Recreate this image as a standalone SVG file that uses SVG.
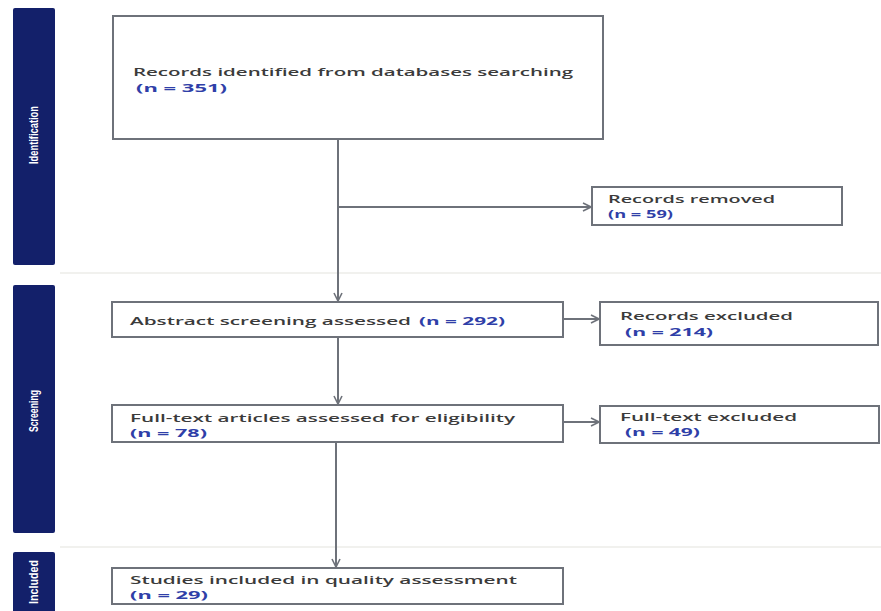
<svg xmlns="http://www.w3.org/2000/svg" width="881" height="611" viewBox="0 0 881 611">
<style>
.bar{fill:#13206a;}
.bl{fill:#ffffff;font-family:"Liberation Sans Narrow","Liberation Sans",sans-serif;font-size:12px;font-weight:bold;text-anchor:middle;}
.box{fill:#ffffff;stroke:#6e727a;stroke-width:2;}
.t{fill:#3b3b3b;font-family:"Open Sans","DejaVu Sans",sans-serif;font-size:11px;font-weight:600;}
.n{fill:#2f3fa8;font-weight:bold;}
.c{stroke:#6e727a;stroke-width:2;fill:none;}
</style>
<defs>
<marker id="ah" viewBox="0 0 10 10" refX="9" refY="5" markerWidth="10" markerHeight="10" markerUnits="userSpaceOnUse" orient="auto">
<polyline points="1,1 9,5 1,9" fill="none" stroke="#6e727a" stroke-width="1.6"/>
</marker>
</defs>
<rect width="881" height="611" fill="#ffffff"/>
<line x1="60" y1="273" x2="881" y2="273" stroke="#f1f1ee" stroke-width="2"/>
<line x1="60" y1="547" x2="881" y2="547" stroke="#f1f1ee" stroke-width="2"/>

<g id="phase-identification">
<rect class="bar" x="13" y="8" width="42" height="257" rx="2"/>
<text class="bl" transform="translate(38,135) rotate(-90)" textLength="58" lengthAdjust="spacingAndGlyphs">Identification</text>
</g>
<g id="phase-screening">
<rect class="bar" x="13" y="285" width="42" height="248" rx="2"/>
<text class="bl" transform="translate(38,411) rotate(-90)" textLength="42" lengthAdjust="spacingAndGlyphs">Screening</text>
</g>
<g id="phase-included">
<rect class="bar" x="13" y="552" width="42" height="62" rx="2"/>
<text class="bl" transform="translate(38,582) rotate(-90)" textLength="44" lengthAdjust="spacingAndGlyphs">Included</text>
</g>

<g id="connectors">
<line class="c" x1="338" y1="139" x2="338" y2="301" marker-end="url(#ah)"/>
<line class="c" x1="338" y1="207" x2="591" y2="207" marker-end="url(#ah)"/>
<line class="c" x1="563" y1="319" x2="599" y2="319" marker-end="url(#ah)"/>
<line class="c" x1="338" y1="337" x2="338" y2="404" marker-end="url(#ah)"/>
<line class="c" x1="563" y1="422" x2="599" y2="422" marker-end="url(#ah)"/>
<line class="c" x1="336" y1="442" x2="336" y2="567" marker-end="url(#ah)"/>
</g>

<g id="records-identified">
<rect class="box" x="113" y="16" width="490" height="123"/>
<text class="t" x="133" y="76" textLength="440" lengthAdjust="spacingAndGlyphs">Records identified from databases searching</text>
<text class="t n" x="136" y="92" textLength="91" lengthAdjust="spacingAndGlyphs">(n = 351)</text>
</g>

<g id="records-removed">
<rect class="box" x="592" y="187" width="250" height="38"/>
<text class="t" x="608" y="203" textLength="167" lengthAdjust="spacingAndGlyphs">Records removed</text>
<text class="t n" x="608" y="218" textLength="65" lengthAdjust="spacingAndGlyphs">(n = 59)</text>
</g>

<g id="abstract-screening">
<rect class="box" x="112" y="302" width="451" height="35"/>
<text class="t" x="130" y="325" textLength="281" lengthAdjust="spacingAndGlyphs">Abstract screening assessed</text>
<text class="t n" x="419" y="325" textLength="86" lengthAdjust="spacingAndGlyphs">(n = 292)</text>
</g>

<g id="records-excluded">
<rect class="box" x="600" y="302" width="278" height="43"/>
<text class="t" x="620" y="320" textLength="173" lengthAdjust="spacingAndGlyphs">Records excluded</text>
<text class="t n" x="625" y="336" textLength="88" lengthAdjust="spacingAndGlyphs">(n = 214)</text>
</g>

<g id="fulltext-assessed">
<rect class="box" x="112" y="405" width="451" height="37"/>
<text class="t" x="130" y="422" textLength="385" lengthAdjust="spacingAndGlyphs">Full-text articles assessed for eligibility</text>
<text class="t n" x="130" y="437" textLength="77" lengthAdjust="spacingAndGlyphs">(n = 78)</text>
</g>

<g id="fulltext-excluded">
<rect class="box" x="600" y="406" width="279" height="37"/>
<text class="t" x="620" y="421" textLength="177" lengthAdjust="spacingAndGlyphs">Full-text excluded</text>
<text class="t n" x="625" y="436" textLength="75" lengthAdjust="spacingAndGlyphs">(n = 49)</text>
</g>

<g id="studies-included">
<rect class="box" x="112" y="568" width="451" height="36"/>
<text class="t" x="130" y="584" textLength="387" lengthAdjust="spacingAndGlyphs">Studies included in quality assessment</text>
<text class="t n" x="130" y="599" textLength="78" lengthAdjust="spacingAndGlyphs">(n = 29)</text>
</g>
</svg>
